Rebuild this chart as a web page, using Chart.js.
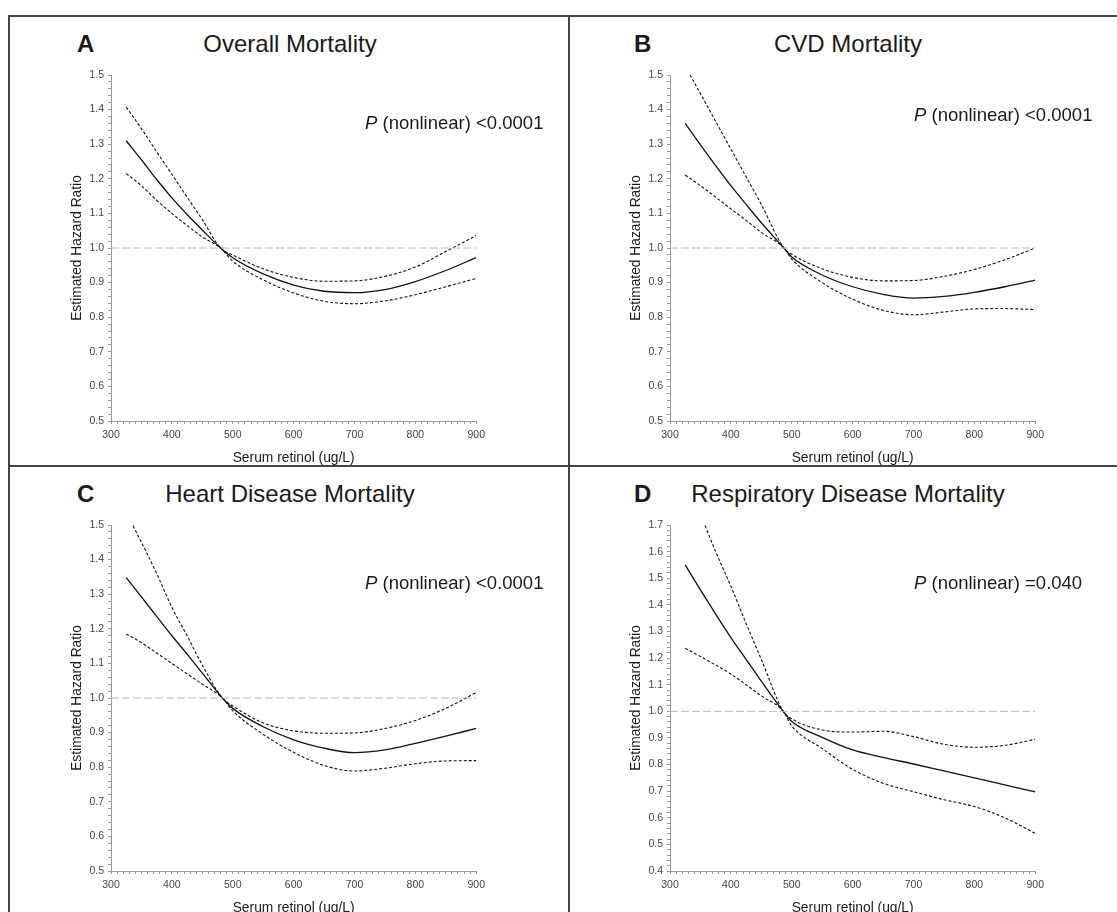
<!DOCTYPE html>
<html>
<head>
<meta charset="utf-8">
<script src="https://cdn.jsdelivr.net/npm/chart.js@4.4.1/dist/chart.umd.min.js"></script>
<style>
  body { margin: 0; width: 1117px; height: 912px; overflow: hidden; background: #fff; position: relative;
         font-family: "Liberation Sans", Arial, sans-serif; color: #1a1a1a; }
  .cell { position: absolute; overflow: hidden; }
  .cell canvas { position: absolute; }
  .rule { position: absolute; background: #444; }
  .letter, .title, .pval { position: absolute; white-space: nowrap; line-height: 1; }
  .letter { font-size: 24px; font-weight: bold; }
  .title { font-size: 24px; transform: translateX(-50%); }
  .pval { font-size: 18.5px; }
</style>
</head>
<body>

<div class="cell" style="left:0;top:0;width:569px;height:466px"><canvas id="chartA" width="428" height="410" style="left:62px;top:60px"></canvas></div>
<div class="cell" style="left:569px;top:0;width:548px;height:466px"><canvas id="chartB" width="428" height="410" style="left:52px;top:60px"></canvas></div>
<div class="cell" style="left:0;top:466px;width:569px;height:446px"><canvas id="chartC" width="428" height="410" style="left:62px;top:44px"></canvas></div>
<div class="cell" style="left:569px;top:466px;width:548px;height:446px"><canvas id="chartD" width="428" height="410" style="left:52px;top:44px"></canvas></div>

<!-- panel frame -->
<div class="rule" style="left:8px;top:15px;width:1109px;height:2px"></div>
<div class="rule" style="left:8px;top:15px;width:2px;height:897px"></div>
<div class="rule" style="left:568px;top:15px;width:2px;height:897px"></div>
<div class="rule" style="left:8px;top:465px;width:1109px;height:2px"></div>

<div class="letter" style="left:77px;top:32px">A</div>
<div class="title" style="left:290px;top:32px">Overall Mortality</div>
<div class="pval" style="left:365px;top:114px"><i>P</i> (nonlinear) &lt;0.0001</div>

<div class="letter" style="left:634px;top:32px">B</div>
<div class="title" style="left:848px;top:32px">CVD Mortality</div>
<div class="pval" style="left:914px;top:106px"><i>P</i> (nonlinear) &lt;0.0001</div>

<div class="letter" style="left:77px;top:482px">C</div>
<div class="title" style="left:290px;top:482px">Heart Disease Mortality</div>
<div class="pval" style="left:365px;top:574px"><i>P</i> (nonlinear) &lt;0.0001</div>

<div class="letter" style="left:634px;top:482px">D</div>
<div class="title" style="left:848px;top:482px">Respiratory Disease Mortality</div>
<div class="pval" style="left:914px;top:574px"><i>P</i> (nonlinear) =0.040</div>

<script>
// serum retinol (ug/L) grid and hazard ratio curves
var retinolA = [325, 350, 375, 400, 425, 450, 480, 500, 550, 600, 650, 700, 750, 800, 850, 900];
var hrA    = [1.31, 1.255, 1.198, 1.145, 1.097, 1.052, 1.0, 0.972, 0.925, 0.893, 0.875, 0.871, 0.88, 0.903, 0.935, 0.972];
var upperA = [1.407, 1.345, 1.278, 1.213, 1.147, 1.082, 1.0, 0.98, 0.94, 0.915, 0.904, 0.905, 0.918, 0.945, 0.99, 1.036];
var lowerA = [1.215, 1.18, 1.138, 1.10, 1.065, 1.032, 1.0, 0.962, 0.908, 0.87, 0.846, 0.839, 0.847, 0.865, 0.888, 0.912];

var retinolB = [325, 350, 375, 400, 425, 450, 487, 500, 550, 600, 650, 700, 750, 800, 850, 900];
var hrB    = [1.36, 1.298, 1.238, 1.18, 1.126, 1.073, 1.0, 0.974, 0.922, 0.888, 0.866, 0.855, 0.86, 0.872, 0.888, 0.907];
var upperB = [1.526, 1.446, 1.366, 1.286, 1.206, 1.126, 1.0, 0.982, 0.94, 0.915, 0.905, 0.906, 0.918, 0.938, 0.966, 1.0];
var lowerB = [1.211, 1.18, 1.147, 1.113, 1.08, 1.045, 1.0, 0.968, 0.9, 0.852, 0.82, 0.807, 0.815, 0.824, 0.825, 0.822];

var retinolC = [325, 350, 375, 400, 425, 450, 483, 500, 550, 600, 650, 700, 750, 800, 850, 900];
var hrC    = [1.348, 1.292, 1.236, 1.18, 1.127, 1.072, 1.0, 0.97, 0.917, 0.879, 0.855, 0.842, 0.85, 0.869, 0.89, 0.912];
var upperC = [1.536, 1.45, 1.36, 1.262, 1.18, 1.095, 1.0, 0.977, 0.928, 0.905, 0.898, 0.899, 0.912, 0.935, 0.97, 1.016];
var lowerC = [1.185, 1.16, 1.13, 1.1, 1.07, 1.04, 1.0, 0.963, 0.895, 0.843, 0.805, 0.789, 0.797, 0.81, 0.818, 0.819];

var retinolD = [325, 350, 375, 400, 425, 450, 486, 500, 550, 600, 650, 700, 750, 800, 850, 900];
var hrD    = [1.55, 1.456, 1.365, 1.277, 1.195, 1.113, 1.0, 0.962, 0.902, 0.855, 0.827, 0.802, 0.776, 0.75, 0.724, 0.697];
var upperD = [1.87, 1.74, 1.6, 1.47, 1.33, 1.195, 1.0, 0.972, 0.93, 0.922, 0.925, 0.905, 0.876, 0.865, 0.872, 0.895];
var lowerD = [1.237, 1.206, 1.174, 1.14, 1.1, 1.058, 1.0, 0.945, 0.86, 0.782, 0.73, 0.698, 0.668, 0.642, 0.6, 0.541];

var xRange = [300, 900];
var yRangeABC = [0.5, 1.5];
var yRangeD = [0.4, 1.7];
var refHR = 1.0;

var FONT = '"Liberation Sans", Arial, sans-serif';

function pts(xs, ys) {
    return xs.map(function (x, i) { return { x: x, y: ys[i] }; });
}

function makePanel(id, xs, hr, up, lo, yr) {
    var axisGrey = '#9a9a9a';
    return new Chart(document.getElementById(id), {
        type: 'line',
        data: {
            datasets: [
                { data: [{ x: xRange[0], y: refHR }, { x: xRange[1], y: refHR }],
                  borderColor: '#b8b8b8', borderWidth: 1, borderDash: [8, 3], cubicInterpolationMode: 'default', tension: 0 },
                { data: pts(xs, up), borderColor: '#111', borderWidth: 1.1, borderDash: [3, 2] },
                { data: pts(xs, lo), borderColor: '#111', borderWidth: 1.1, borderDash: [3, 2] },
                { data: pts(xs, hr), borderColor: '#111', borderWidth: 1.3 }
            ]
        },
        options: {
            responsive: false,
            animation: false,
            layout: { padding: { top: 15, right: 11, left: 0, bottom: 0 } },
            plugins: { legend: { display: false }, tooltip: { enabled: false } },
            elements: { point: { radius: 0 }, line: { cubicInterpolationMode: 'monotone', fill: false } },
            scales: {
                x: {
                    type: 'linear', min: xRange[0], max: xRange[1],
                    afterFit: function (s) { s.height = 49; },
                    ticks: {
                        stepSize: 10, autoSkip: false, maxRotation: 0, padding: 5,
                        color: '#444', font: { family: FONT, size: 10.5 },
                        callback: function (v) { return v % 100 === 0 ? String(v) : ''; }
                    },
                    grid: { drawOnChartArea: false, drawTicks: true, tickLength: 3, color: axisGrey },
                    border: { color: axisGrey },
                    title: { display: true, text: 'Serum retinol (ug/L)', color: '#1a1a1a',
                             font: { family: FONT, size: 13.8 }, padding: { top: 0, bottom: 3.5 } }
                },
                y: {
                    min: yr[0], max: yr[1],
                    afterFit: function (s) { s.width = 49; },
                    ticks: {
                        stepSize: 0.02, autoSkip: false, padding: 4,
                        color: '#444', font: { family: FONT, size: 10.5 },
                        callback: function (v) {
                            var r = Math.round(v * 10);
                            return Math.abs(v * 10 - r) < 1e-6 ? (r / 10).toFixed(1) : '';
                        }
                    },
                    grid: { drawOnChartArea: false, drawTicks: true, tickLength: 3, color: axisGrey },
                    border: { color: axisGrey },
                    title: { display: true, text: 'Estimated Hazard Ratio', color: '#1a1a1a',
                             font: { family: FONT, size: 13.8 }, padding: { top: 7, bottom: 0 } }
                }
            }
        }
    });
}

makePanel('chartA', retinolA, hrA, upperA, lowerA, yRangeABC);
makePanel('chartB', retinolB, hrB, upperB, lowerB, yRangeABC);
makePanel('chartC', retinolC, hrC, upperC, lowerC, yRangeABC);
makePanel('chartD', retinolD, hrD, upperD, lowerD, yRangeD);
</script>
</body>
</html>
